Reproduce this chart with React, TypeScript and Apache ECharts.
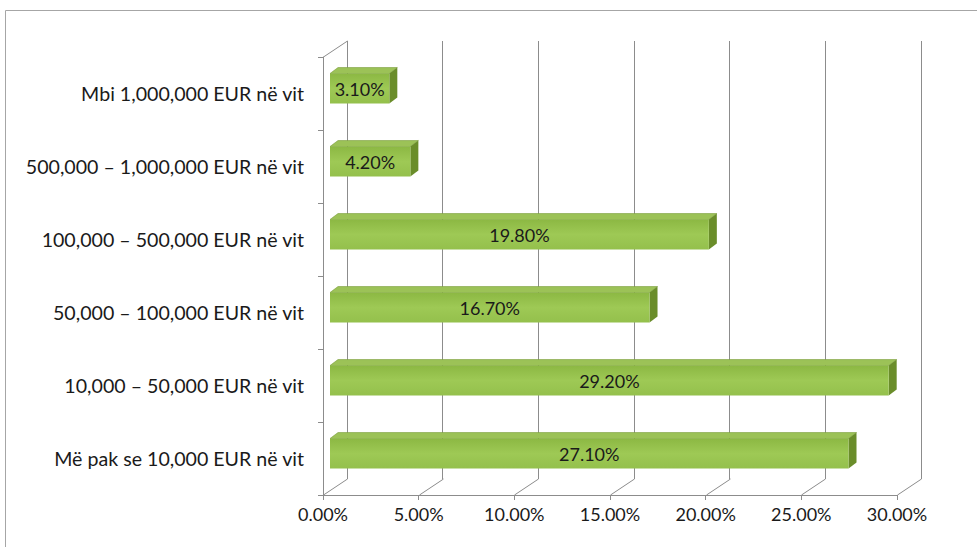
import React, { useEffect, useRef } from "react";
import * as echarts from "echarts";

const categories = [
  "Më pak se 10,000 EUR në vit",
  "10,000 – 50,000 EUR në vit",
  "50,000 – 100,000 EUR në vit",
  "100,000 – 500,000 EUR në vit",
  "500,000 – 1,000,000 EUR në vit",
  "Mbi 1,000,000 EUR në vit",
];
const values = [27.1, 29.2, 16.7, 19.8, 4.2, 3.1];
const xTickValues = [0, 5, 10, 15, 20, 25, 30];

const DEPTH_X = 24;
const DEPTH_Y = -16;
const FRONT_X = 7;
const FRONT_Y = -5;
const BAR_DX = 8;
const BAR_DY = -6;

export default function App() {
  const ref = useRef<HTMLDivElement>(null);
  useEffect(() => {
    const chart = echarts.init(ref.current!, null, { renderer: "svg" });
    const font = "Lato";
    const gridColor = "#8c8c8c";
    const textColor = "#1a1a1a";
    chart.setOption({
      animation: false,
      backgroundColor: "#ffffff",
      graphic: [
        {
          type: "rect",
          shape: { x: 5.5, y: 10.5, width: 1000, height: 600 },
          style: { fill: "none", stroke: "#a6a6a6", lineWidth: 1 },
          silent: true,
          z: -1,
        },
      ],
      grid: [
        { left: 323, right: 80, top: 57, bottom: 52 },
        { left: 347, right: 56, top: 41, bottom: 68 },
      ],
      xAxis: [
        {
          type: "value",
          gridIndex: 0,
          min: 0,
          max: 30,
          interval: 5,
          axisLine: { show: true, lineStyle: { color: gridColor } },
          axisTick: { show: true, length: 5, lineStyle: { color: gridColor } },
          splitLine: { show: false },
          axisLabel: {
            formatter: (v: number) => v.toFixed(2) + "%",
            fontFamily: font,
            fontSize: 18,
            color: textColor,
            margin: 10,
          },
        },
        {
          type: "value",
          gridIndex: 1,
          min: 0,
          max: 30,
          interval: 5,
          axisLine: { show: false },
          axisTick: { show: false },
          axisLabel: { show: false },
          splitLine: { show: true, lineStyle: { color: gridColor } },
        },
      ],
      yAxis: [
        {
          type: "category",
          gridIndex: 0,
          data: categories,
          axisLine: { show: true, lineStyle: { color: gridColor } },
          axisTick: { show: true, length: 5, lineStyle: { color: gridColor } },
          axisLabel: {
            fontFamily: font,
            fontSize: 19.6,
            color: textColor,
            margin: 19,
          },
        },
        {
          type: "category",
          gridIndex: 1,
          data: categories,
          show: false,
        },
      ],
      series: [
        {
          type: "custom",
          xAxisIndex: 0,
          yAxisIndex: 0,
          silent: true,
          z: 1,
          data: xTickValues.map((v) => [v, 0]),
          renderItem: (params: any, api: any) => {
            const cs = params.coordSys;
            const v = api.value(0);
            const x = Math.round(api.coord([v, 0])[0]) + 0.5;
            const yb = cs.y + cs.height;
            const children: any[] = [
              {
                type: "line",
                shape: { x1: x, y1: yb, x2: x + DEPTH_X, y2: yb + DEPTH_Y },
                style: { stroke: gridColor, lineWidth: 1 },
              },
            ];
            if (params.dataIndex === 0) {
              children.push({
                type: "line",
                shape: { x1: x, y1: cs.y, x2: x + DEPTH_X, y2: cs.y + DEPTH_Y },
                style: { stroke: gridColor, lineWidth: 1 },
              });
            }
            return { type: "group", children };
          },
        },
        {
          type: "custom",
          xAxisIndex: 0,
          yAxisIndex: 0,
          z: 3,
          data: values.map((v, i) => [v, i]),
          encode: { x: 0, y: 1 },
          renderItem: (params: any, api: any) => {
            const v = api.value(0);
            const i = api.value(1);
            const p0 = api.coord([0, i]);
            const p1 = api.coord([v, i]);
            const band = api.size([0, 1])[1];
            const h = band * 0.41;
            const x0 = p0[0] + FRONT_X;
            const x1 = p1[0] + FRONT_X;
            const yc = p0[1] + FRONT_Y;
            const yt = yc - h / 2;
            const yb = yc + h / 2;
            return {
              type: "group",
              children: [
                {
                  type: "polygon",
                  shape: {
                    points: [
                      [x0, yt],
                      [x1, yt],
                      [x1 + BAR_DX, yt + BAR_DY],
                      [x0 + BAR_DX, yt + BAR_DY],
                    ],
                  },
                  style: { fill: "#9cc257", stroke: "#7a9c3a", lineWidth: 0.6 },
                },
                {
                  type: "polygon",
                  shape: {
                    points: [
                      [x1, yt],
                      [x1 + BAR_DX, yt + BAR_DY],
                      [x1 + BAR_DX, yb + BAR_DY],
                      [x1, yb],
                    ],
                  },
                  style: { fill: "#6a8d2a" },
                },
                {
                  type: "rect",
                  shape: { x: x0, y: yt, width: x1 - x0, height: h },
                  style: {
                    fill: {
                      type: "linear",
                      x: 0,
                      y: 0,
                      x2: 0,
                      y2: 1,
                      colorStops: [
                        { offset: 0, color: "#8cb843" },
                        { offset: 0.5, color: "#9ec955" },
                        { offset: 1, color: "#94c04c" },
                      ],
                    },
                  },
                },
                {
                  type: "text",
                  style: {
                    text: v.toFixed(2) + "%",
                    x: (x0 + x1) / 2,
                    y: yc,
                    align: "center",
                    verticalAlign: "middle",
                    fontFamily: font,
                    fontSize: 18,
                    fill: textColor,
                  },
                },
              ],
            };
          },
        },
      ],
    });
    return () => chart.dispose();
  }, []);
  return (
    <div
      ref={ref}
      style={{ position: "fixed", left: 0, top: 0, width: 977, height: 547 }}
    />
  );
}
